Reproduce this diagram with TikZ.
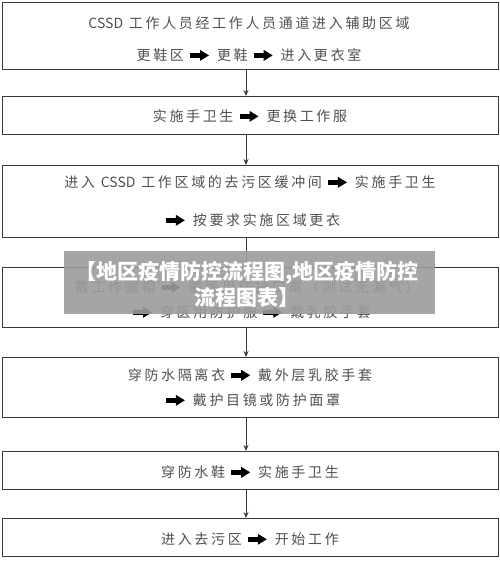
\documentclass[tikz,border=0pt]{standalone}
\usepackage{fontspec}
\usetikzlibrary{arrows.meta}
\newfontfamily\cjk[LetterSpace=19]{Noto Sans CJK SC}
\newfontfamily\cjkwm{Noto Sans CJK SC}
\newcommand\harr{\hspace{6pt}\tikz[baseline={(0,-5pt)},x=1pt,y=1pt]{\fill[black] (0,-2.2) rectangle (11,2.2); \fill[black] (10,-5.5) -- (19,0) -- (10,5.5) -- cycle;}\hspace{8pt}}
\newcommand\latin[1]{{\cjkwm #1}}
\definecolor{txt}{HTML}{505050}
\definecolor{edge}{HTML}{383838}
\definecolor{wmgray}{HTML}{9C9C9C}
\begin{document}
\begin{tikzpicture}[x=1pt,y=-1pt,
  box/.style={draw=edge,line width=1pt,minimum width=496pt,inner sep=0pt,outer sep=0pt},
  lbl/.style={text=txt,font=\cjk\fontsize{14pt}{15pt}\selectfont,inner sep=0pt,anchor=center},
  conn/.style={draw=edge,line width=0.9pt,-{Stealth[length=6pt,width=5pt]}},
  wm/.style={text=white,font=\cjkwm\bfseries\fontsize{21pt}{26pt}\selectfont,align=center,inner sep=0pt}]
\useasboundingbox (0,0) rectangle (500,565);
\fill[white] (0,0) rectangle (500,565);
% boxes
\node[box,minimum height=67pt] (b1) at (250,35.5) {};
\node[box,minimum height=38pt] (b2) at (250,115) {};
\node[box,minimum height=72pt] (b3) at (250,201) {};
\node[box,minimum height=60pt] (b4) at (250,297) {};
\node[box,minimum height=60pt] (b5) at (250,387) {};
\node[box,minimum height=38pt] (b6) at (250,470) {};
\node[box,minimum height=38pt] (b7) at (250,537) {};
% texts
\node[lbl] (t1a) at (249,23) {\latin{CSSD} 工作人员经工作人员通道进入辅助区域};
\node[lbl] (t1b) at (249,55) {更鞋区\harr 更鞋\harr 进入更衣室};
\node[lbl] (t2) at (250,116) {实施手卫生\harr 更换工作服};
\node[lbl] (t3a) at (250,182) {进入 \latin{CSSD} 工作区域的去污区缓冲间\harr 实施手卫生};
\node[lbl] (t3b) at (250,220) {\harr 按要求实施区域更衣};
\node[lbl] (t4a) at (247,287) {戴工作圆帽\harr 戴医用防护口罩（测试无漏气）};
\node[lbl] (t4b) at (249,312) {\harr 穿医用防护服\harr 戴乳胶手套};
\node[lbl] (t5a) at (250,375) {穿防水隔离衣\harr 戴外层乳胶手套};
\node[lbl] (t5b) at (250,400) {\harr 戴护目镜或防护面罩};
\node[lbl] (t6) at (250,472) {穿防水鞋\harr 实施手卫生};
\node[lbl] (t7) at (250,539) {进入去污区\harr 开始工作};
% connectors
\coordinate (ax) at (246,0);
\draw[conn] (b1.south -| ax) -- (b2.north -| ax);
\draw[conn] (b2.south -| ax) -- (b3.north -| ax);
\draw[conn] (b3.south -| ax) -- (b4.north -| ax);
\draw[conn] (b4.south -| ax) -- (b5.north -| ax);
\draw[conn] (b5.south -| ax) -- (b6.north -| ax);
\draw[conn] (b6.south -| ax) -- (b7.north -| ax);
% watermark
\fill[wmgray,opacity=0.9] (64,251) rectangle (435,314);
\node[wm] (wmt) at (247,284) {【地区疫情防控流程图,地区疫情防控\\流程图表】};
\end{tikzpicture}
\end{document}
